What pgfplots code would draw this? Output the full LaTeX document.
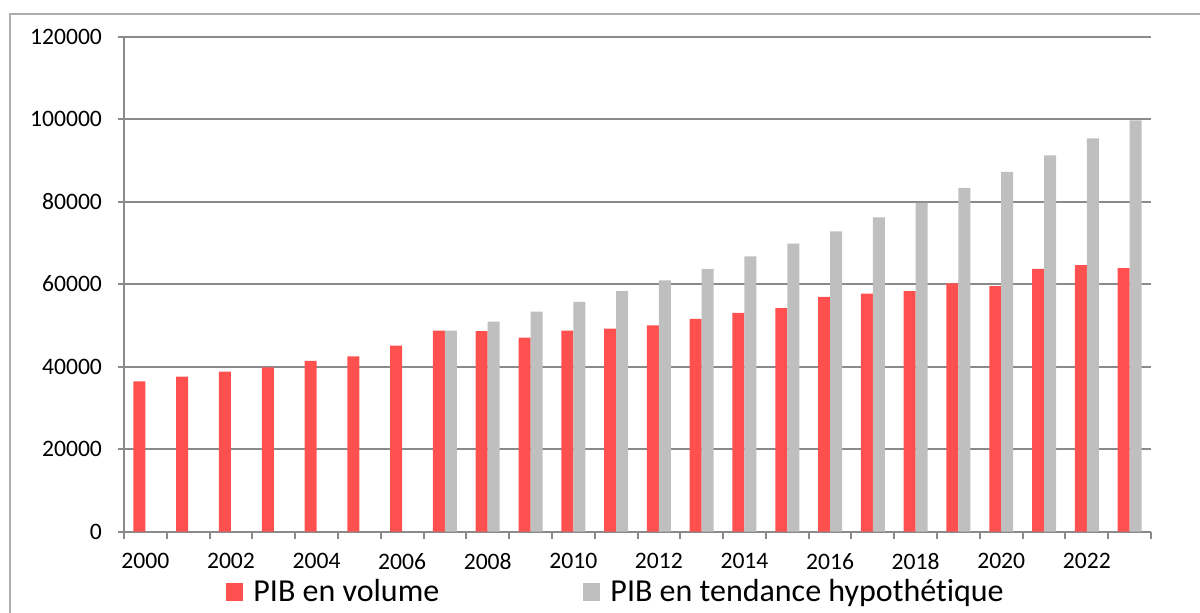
\documentclass[border=0pt]{standalone}
\usepackage{pgfplots}
\pgfplotsset{compat=1.18}
\usepackage{pgfplotstable}
\usepackage{fontspec}
\setmainfont{Carlito}[Ligatures=NoCommon]

\definecolor{pibred}{HTML}{FF5050}
\definecolor{pibgrey}{HTML}{BFBFBF}
\definecolor{axisgrey}{HTML}{8A8A8A}

% PIB en volume
\pgfplotstableread{
year value
2000 36400
2001 37600
2002 38800
2003 39800
2004 41400
2005 42500
2006 45100
2007 48700
2008 48600
2009 47000
2010 48700
2011 49200
2012 50000
2013 51600
2014 53000
2015 54200
2016 56900
2017 57700
2018 58300
2019 60200
2020 59500
2021 63700
2022 64600
2023 63900
}\volume

% PIB en tendance hypothetique
\pgfplotstableread{
year value
2007 48700
2008 50900
2009 53300
2010 55700
2011 58300
2012 60900
2013 63700
2014 66700
2015 69800
2016 72800
2017 76200
2018 79700
2019 83300
2020 87200
2021 91200
2022 95300
2023 99700
}\tendance

\begin{document}
\begin{tikzpicture}
\path[use as bounding box] (0pt,0pt) rectangle (600pt,306pt);
\draw[axisgrey!70, line width=1pt] (5pt,-10pt) -- (5pt,299pt) -- (610pt,299pt);
\begin{axis}[
    at={(62pt,40.2pt)}, anchor=south west,
    scale only axis,
    width=513.5pt, height=247.5pt,
    xmin=1999.5, xmax=2023.5,
    ymin=0, ymax=120000,
    axis x line*=bottom, axis y line*=left,
    axis line style={axisgrey, line width=1pt},
    ymajorgrids, grid style={axisgrey, line width=1pt},
    ytick={0,20000,...,120000},
    yticklabels={0,20000,40000,60000,80000,100000,120000},
    scaled y ticks=false,
    xtick={2000,2002,...,2022},
    xticklabels={2000,2002,2004,2006,2008,2010,2012,2014,2016,2018,2020,2022},
    minor xtick={1999.5,2000.5,...,2023.5},
    major x tick style={draw=none},
    tick align=outside,
    major tick length=3pt, minor tick length=3.5pt,
    every tick/.style={axisgrey, line width=1pt},
    tick label style={font=\fontsize{11.8}{13}\selectfont, text=black},
    yticklabel style={xshift=-4.5pt},
    xticklabel style={yshift=-4.5pt},
    ybar=0pt, bar width=0.28,
    legend columns=2,
    legend style={at={(0.48,-0.122)}, anchor=center, draw=none, fill=none,
        font=\fontsize{16}{18}\selectfont,
        /tikz/every odd column/.append style={column sep=3pt},
        /tikz/every even column/.append style={column sep=70pt}},
    legend image code/.code={\path[#1, draw=none] (0pt,-4.3pt) rectangle (8.6pt,4.3pt);},
]
\addplot[fill=pibred, draw=none, bar shift=-0.14] table[x=year, y=value] {\volume};
\addplot[fill=pibgrey, draw=none, bar shift=0.14] table[x=year, y=value] {\tendance};
\legend{PIB en volume, PIB en tendance hypothétique}
\end{axis}
\end{tikzpicture}
\end{document}
